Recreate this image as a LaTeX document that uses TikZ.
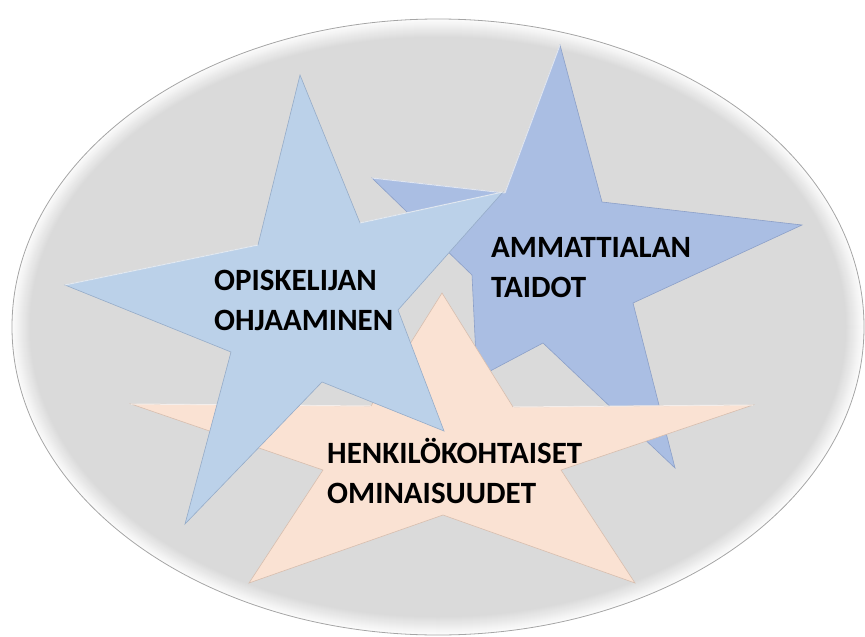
\documentclass[tikz,border=0pt]{standalone}
\usepackage{fontspec}
\setmainfont{Carlito}
\definecolor{ellg}{RGB}{218,218,218}
\definecolor{ellrim}{RGB}{252,252,252}
\definecolor{ellline}{RGB}{165,165,165}
\definecolor{sonec}{RGB}{187,209,233}
\definecolor{sonee}{RGB}{150,172,200}
\definecolor{stwoc}{RGB}{170,190,227}
\definecolor{stwoe}{RGB}{140,160,200}
\definecolor{sthreec}{RGB}{250,226,211}
\definecolor{sthreee}{RGB}{215,190,175}
\begin{document}
\begin{tikzpicture}[x=1pt,y=-1pt,
  lbl/.style={font=\bfseries\fontsize{31}{40}\selectfont, align=left, inner sep=0pt, anchor=base west, text=black},
  starone/.style={fill=sonec, draw=sonee, line width=0.6pt, line join=miter},
  startwo/.style={fill=stwoc, draw=stwoe, line width=0.6pt, line join=miter},
  starthree/.style={fill=sthreec, draw=sthreee, line width=0.6pt, line join=miter},
  hilite/.style={draw=white, line width=1pt, opacity=0.7}]
\useasboundingbox (0,0) rectangle (865,637);
% background ellipse with light rim
\foreach \i in {0,...,18}{
  \pgfmathsetmacro{\m}{100-5.5*\i}
  \fill[color=ellrim!\m!ellg] (438,327) ellipse [x radius={426-\i}, y radius={308-\i}];
}
\draw[ellline, line width=0.8pt] (438,327) ellipse [x radius=426, y radius=308];
% star 2 (back)
\path[startwo] (560,45) -- (602,202) -- (802,225) -- (633,303) -- (675,468) -- (543,343)
  -- (477,378) -- (472,275) -- (372,178) -- (505,193) -- cycle;
\draw[hilite] (372,178) -- (505,193);
\draw[hilite] (560,45) -- (505,193);
% star 3 (middle)
\path[starthree] (442,293) -- (513,407) -- (753,405) -- (561,470) -- (635,583) -- (443,515)
  -- (249,583) -- (323,470) -- (131,404) -- (371,406) -- cycle;
\draw[hilite] (131,404) -- (371,406);
\draw[hilite] (513,407) -- (753,405);
% star 1 (front)
\path[starone] (300,75) -- (360,223) -- (503,192) -- (398,310) -- (444,431) -- (322,382)
  -- (185,524) -- (231,352) -- (65,285) -- (258,245) -- cycle;
\draw[hilite] (65,285) -- (258,245);
\draw[hilite] (360,223) -- (503,192);
% labels (base anchor = baseline of last line)
\node[lbl] (opis) at (214,330) {OPISKELIJAN\\OHJAAMINEN};
\node[lbl] (amma) at (491,297) {AMMATTIALAN\\TAIDOT};
\node[lbl] (henk) at (327,503) {HENKILÖKOHTAISET\\OMINAISUUDET};
\end{tikzpicture}
\end{document}
